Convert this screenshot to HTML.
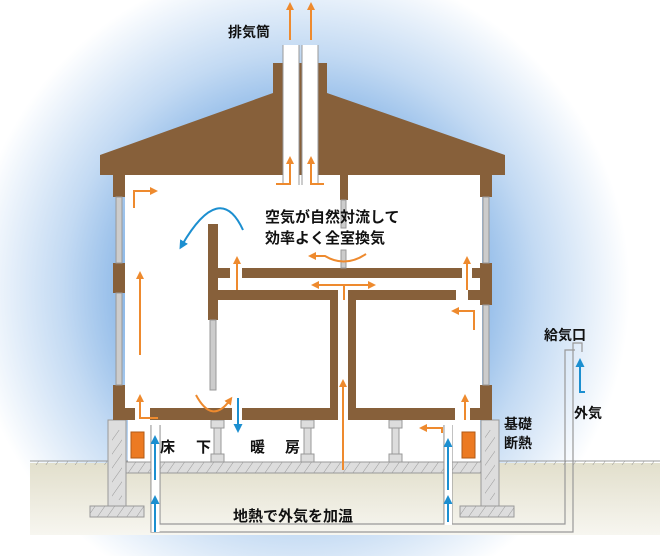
<!DOCTYPE html>
<html><head><meta charset="utf-8"><style>
html,body{margin:0;padding:0;background:#fff}
svg{display:block}
text{font-family:"Liberation Sans","Noto Sans CJK JP",sans-serif;fill:#111;font-weight:bold}
</style></head><body>
<svg width="660" height="556" viewBox="0 0 660 556" xmlns="http://www.w3.org/2000/svg">
<defs>
<radialGradient id="bg" cx="300" cy="290" r="330" gradientUnits="userSpaceOnUse">
<stop offset="0.5" stop-color="#86b4e6"/>
<stop offset="0.72" stop-color="#c3daf3"/>
<stop offset="1" stop-color="#ffffff"/>
</radialGradient>
<linearGradient id="gr" x1="0" y1="0" x2="0" y2="1">
<stop offset="0" stop-color="#e2dfcc"/><stop offset="1" stop-color="#f7f6f0"/>
</linearGradient>
<pattern id="h" width="8" height="8" patternUnits="userSpaceOnUse" patternTransform="rotate(35)">
<line x1="0" y1="0" x2="0" y2="8" stroke="#999" stroke-width="1"/>
</pattern>
<marker id="ao" markerWidth="8" markerHeight="8" refX="4" refY="4" orient="auto" markerUnits="userSpaceOnUse" viewBox="0 0 8 8"><path d="M0,0 L8,4 L0,8z" fill="#ee8a2e"/></marker>
<marker id="ab" markerWidth="9" markerHeight="9" refX="4" refY="4.5" orient="auto" markerUnits="userSpaceOnUse" viewBox="0 0 9 9"><path d="M0,0 L9,4.5 L0,9z" fill="#1c8fd0"/></marker>
</defs>
<rect width="660" height="556" fill="url(#bg)"/>
<rect x="30" y="463" width="630" height="72" fill="url(#gr)"/>
<rect x="30" y="461" width="630" height="4" fill="url(#h)"/>
<line x1="30" y1="461" x2="660" y2="461" stroke="#999"/>
<rect x="125" y="175" width="357" height="245" fill="#fff"/>
<rect x="128" y="420" width="352" height="42" fill="#fff"/>
<rect x="126" y="462" width="355" height="11" fill="#ddd" stroke="#999"/>
<rect x="126" y="462" width="355" height="11" fill="url(#h)"/>
<g fill="#ddd" stroke="#999">
<rect x="108" y="420" width="18" height="86"/><rect x="90" y="506" width="54" height="11"/>
<rect x="481" y="420" width="18" height="86"/><rect x="460" y="506" width="54" height="11"/>
</g>
<rect x="112" y="430" width="10" height="70" fill="url(#h)"/>
<rect x="485" y="430" width="10" height="70" fill="url(#h)"/>
<rect x="90" y="506" width="54" height="11" fill="url(#h)"/>
<rect x="460" y="506" width="54" height="11" fill="url(#h)"/>
<g fill="#ddd" stroke="#999">
<rect x="211" y="420" width="13" height="8"/><rect x="214" y="428" width="7" height="26"/><rect x="211" y="454" width="13" height="8"/>
<rect x="301" y="420" width="13" height="8"/><rect x="304" y="428" width="7" height="26"/><rect x="301" y="454" width="13" height="8"/>
<rect x="389" y="420" width="13" height="8"/><rect x="392" y="428" width="7" height="26"/><rect x="389" y="454" width="13" height="8"/>
</g>
<rect x="131" y="432" width="13" height="26" fill="#ec7a22" stroke="#b25a15"/>
<rect x="462" y="432" width="13" height="26" fill="#ec7a22" stroke="#b25a15"/>
<path d="M151,425 V532 H573 V343 H582 V352 M160,425 V524 H444 V425 M452,425 V524 H565 V350 H575" fill="none" stroke="#999" stroke-width="1.2"/>
<rect x="151.5" y="425" width="8" height="107" fill="#fff"/>
<rect x="444.5" y="425" width="7.5" height="100" fill="#fff"/>
<path d="M100,155 L273,93 L273,63 L327,63 L327,93 L505,155 L505,175 L100,175z" fill="#87603a"/>
<rect x="283" y="45" width="16" height="140" fill="#fff"/>
<rect x="302" y="45" width="16" height="140" fill="#fff"/>
<g stroke="#999" stroke-width="1">
<line x1="283" y1="45" x2="283" y2="185"/><line x1="299" y1="45" x2="299" y2="185"/>
<line x1="302" y1="45" x2="302" y2="185"/><line x1="318" y1="45" x2="318" y2="185"/>
</g>
<g fill="#87603a">
<rect x="113" y="175" width="12" height="22"/><rect x="113" y="263" width="12" height="30"/><rect x="113" y="385" width="12" height="35"/><rect x="113" y="408" width="22" height="12"/>
<rect x="480" y="175" width="12" height="22"/><rect x="480" y="263" width="12" height="42"/><rect x="480" y="385" width="12" height="35"/><rect x="470" y="408" width="22" height="12"/>
<rect x="150" y="408" width="82" height="12"/><rect x="242" y="408" width="96" height="12"/>
<rect x="348" y="408" width="107" height="12"/>
<rect x="330" y="290" width="8" height="128"/><rect x="348" y="290" width="8" height="128"/>
<rect x="208" y="224" width="10" height="96"/>
<rect x="218" y="268" width="12" height="10"/><rect x="242" y="268" width="220" height="10"/><rect x="472" y="268" width="8" height="10"/>
<rect x="218" y="290" width="120" height="10"/><rect x="348" y="290" width="108" height="10"/><rect x="468" y="290" width="12" height="10"/>
<rect x="340" y="175" width="8" height="25"/>
</g>
<g fill="#ccc" stroke="#999">
<rect x="116" y="197" width="6" height="66"/><rect x="116" y="293" width="6" height="92"/>
<rect x="483" y="197" width="6" height="66"/><rect x="483" y="305" width="6" height="80"/>
<rect x="210" y="320" width="6" height="70"/>
<rect x="341" y="200" width="5" height="28"/><rect x="341" y="250" width="5" height="18"/>
</g>
<g stroke="#ee8a2e" stroke-width="2" fill="none" marker-end="url(#ao)">
<line x1="290" y1="40" x2="290" y2="6"/><line x1="311" y1="40" x2="311" y2="6"/>
<path d="M276,184 H290 V160"/><path d="M324,184 H311 V160"/>
<path d="M134,208 V191 H154"/>
<line x1="140" y1="355" x2="140" y2="275"/>
<path d="M158,418 H140 V398"/>
<line x1="237" y1="290" x2="237" y2="260"/>
<line x1="467" y1="290" x2="467" y2="260"/>
<path d="M474,330 V311 H455"/>
<path d="M344,300 V285 H315"/><path d="M344,285 H372"/>
<path d="M366,254 Q345,268 325,256 L312,256"/>
<line x1="343" y1="470" x2="343" y2="383"/>
<path d="M196,395 Q212,425 230,400"/>
<path d="M465,420 V398"/><path d="M442,433 V428 H423"/>
</g>
<g stroke="#1c8fd0" stroke-width="2" fill="none" marker-end="url(#ab)">
<path d="M243,230 Q220,180 182,245"/>
<line x1="238" y1="398" x2="238" y2="428"/>
<line x1="155" y1="480" x2="155" y2="440"/>
<path d="M155,532 V500"/>
<line x1="448" y1="490" x2="448" y2="443"/>
<path d="M448,522 V500"/>
<path d="M585,392 H580 V363"/>
</g>
<g font-size="14">
<text x="228" y="37">排気筒</text>
<text x="265" y="222" font-size="15">空気が自然対流して</text>
<text x="265" y="243" font-size="15">効率よく全室換気</text>
<text x="160" y="452" font-size="15">床</text><text x="196" y="452" font-size="15">下</text>
<text x="250" y="452" font-size="15">暖</text><text x="285" y="452" font-size="15">房</text>
<text x="233" y="521" font-size="15">地熱で外気を加温</text>
<text x="544" y="340">給気口</text>
<text x="574" y="418">外気</text>
<text x="504" y="429">基礎</text>
<text x="504" y="448">断熱</text>
</g>
</svg>
</body></html>
